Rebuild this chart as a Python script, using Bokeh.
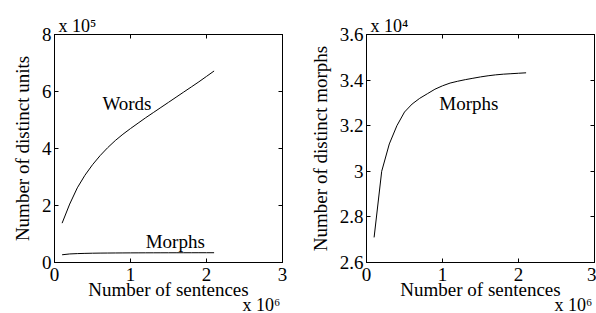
from bokeh.plotting import figure
from bokeh.layouts import row
from bokeh.models import Range1d, LinearAxis, FixedTicker, Label, Title
from bokeh.embed import file_html
from bokeh.resources import INLINE

FONT = "Liberation Serif"

# Data (x in units of 10^6 sentences)
sentences = [0.1, 0.2, 0.3, 0.4, 0.5, 0.6, 0.7, 0.8, 0.9, 1.0, 1.1,
             1.2, 1.3, 1.4, 1.5, 1.6, 1.7, 1.8, 1.9, 2.0, 2.1]
# distinct words, units of 10^5
words = [1.38, 2.05, 2.62, 3.06, 3.43, 3.75, 4.03, 4.28, 4.50, 4.70, 4.89,
         5.08, 5.26, 5.44, 5.62, 5.80, 5.98, 6.16, 6.34, 6.53, 6.72]
# distinct morphs, units of 10^4
morphs = [2.71, 3.00, 3.12, 3.20, 3.26, 3.295, 3.32, 3.34, 3.36, 3.375, 3.387,
          3.395, 3.402, 3.408, 3.414, 3.419, 3.423, 3.426, 3.428, 3.430, 3.432]
morphs_e5 = [m / 10.0 for m in morphs]

x_ticks = [0, 1, 2, 3]
left_y_ticks = [0, 2, 4, 6, 8]
right_y_ticks = [2.6, 2.8, 3.0, 3.2, 3.4, 3.6]
right_y_labels = ["2.6", "2.8", "3", "3.2", "3.4", "3.6"]

H = 313
TOP = 34
BOTTOM = 51


def style_axis(ax, ticks, show_labels=True):
    ax.ticker = FixedTicker(ticks=ticks, minor_ticks=[])
    ax.major_tick_in = 4
    ax.major_tick_out = 0
    ax.minor_tick_in = 0
    ax.minor_tick_out = 0
    ax.axis_line_color = "black"
    ax.major_tick_line_color = "black"
    ax.major_label_text_font = FONT
    ax.major_label_text_color = "black"
    if show_labels:
        ax.major_label_text_font_size = "19px"
    else:
        ax.major_label_text_font_size = "0px"
        ax.major_label_standoff = 0


def make_fig(width, min_left, min_right, yr, yticks, ylabel, top_mult):
    p = figure(width=width, height=H, output_backend="svg", toolbar_location=None,
               x_range=Range1d(0, 3), y_range=Range1d(*yr),
               min_border_left=min_left, min_border_right=min_right,
               min_border_top=TOP, min_border_bottom=BOTTOM)
    p.xgrid.visible = False
    p.ygrid.visible = False
    p.outline_line_color = "black"
    p.outline_line_alpha = 1.0
    p.outline_line_width = 1
    p.background_fill_color = "white"
    p.border_fill_color = "white"
    xa = p.xaxis[0]
    style_axis(xa, x_ticks)
    xa.major_label_standoff = 5
    xa.axis_label = "Number of sentences"
    xa.axis_label_text_font = FONT
    xa.axis_label_text_font_size = "19px"
    xa.axis_label_text_font_style = "normal"
    xa.axis_label_text_color = "black"
    xa.axis_label_standoff = -5
    ya = p.yaxis[0]
    style_axis(ya, yticks)
    ya.major_label_standoff = 3
    ya.axis_label = ylabel
    ya.axis_label_text_font = FONT
    ya.axis_label_text_font_size = "19px"
    ya.axis_label_text_font_style = "normal"
    ya.axis_label_text_color = "black"
    ya.axis_label_standoff = 6
    top = LinearAxis()
    style_axis(top, x_ticks, show_labels=False)
    p.add_layout(top, "above")
    right = LinearAxis()
    style_axis(right, yticks, show_labels=False)
    p.add_layout(right, "right")
    # exponent multipliers
    p.add_layout(Title(text=top_mult, align="left", offset=4, standoff=-2,
                       vertical_align="bottom", text_font=FONT, text_font_size="18px",
                       text_font_style="normal", text_color="black"), "above")
    p.add_layout(Title(text="x 10\u2076", align="left", offset=188, standoff=-20,
                       vertical_align="bottom", text_font=FONT, text_font_size="18px",
                       text_font_style="normal", text_color="black"), "below")
    return p


def add_text(p, x, y, text):
    p.add_layout(Label(x=x, y=y, text=text, text_font=FONT, text_font_size="19px",
                       text_color="black", text_baseline="alphabetic", text_align="left"))


# Left panel
p1 = make_fig(300, 54, 18, (0, 8), left_y_ticks, "Number of distinct units", "x 10\u2075")
p1.line(sentences, words, line_color="black", line_width=1)
p1.line(sentences, morphs_e5, line_color="black", line_width=1)
add_text(p1, 0.63, 5.58, "Words")
add_text(p1, 1.20, 0.75, "Morphs")

# Right panel
p2 = make_fig(296, 66, 2, (2.6, 3.6), right_y_ticks, "Number of distinct morphs", "x 10\u2074")
p2.yaxis[0].major_label_overrides = {t: l for t, l in zip(right_y_ticks, right_y_labels)}
p2.line(sentences, morphs, line_color="black", line_width=1)
add_text(p2, 0.957, 3.296, "Morphs")

layout = row(p1, p2)
open("out.html", "w").write(file_html(layout, INLINE))
